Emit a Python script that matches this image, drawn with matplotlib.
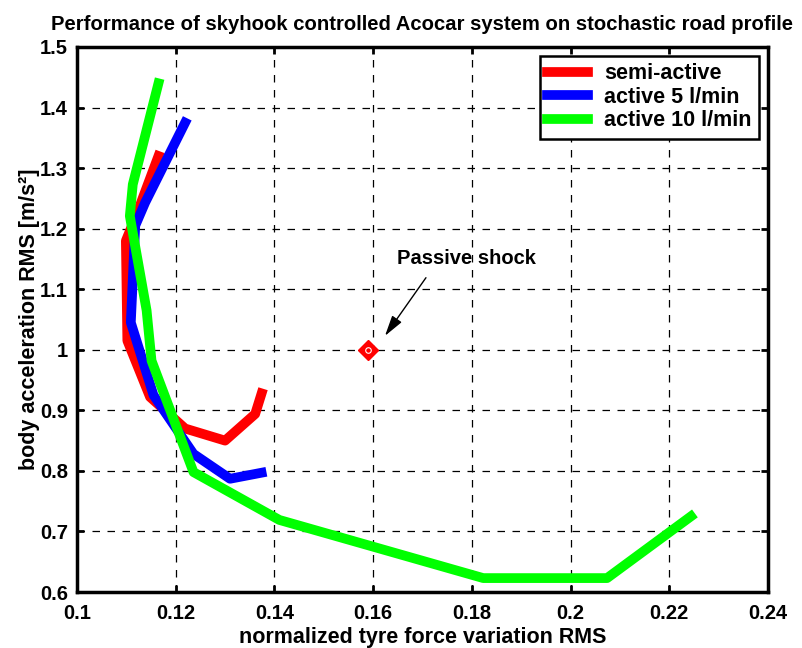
import matplotlib.pyplot as plt

plt.rcParams['font.family'] = ['Liberation Sans', 'DejaVu Sans']
plt.rcParams['font.weight'] = 'bold'

# semi-active
semi_x = [0.1165, 0.1121, 0.1099, 0.1102, 0.1148, 0.1219, 0.1300, 0.1361, 0.1374]
semi_y = [1.320, 1.224, 1.180, 1.015, 0.922, 0.870, 0.850, 0.894, 0.928]

# active 5 l/min
act5_x = [0.1219, 0.1138, 0.1118, 0.1109, 0.1155, 0.1236, 0.1310, 0.1374]
act5_y = [1.375, 1.243, 1.205, 1.045, 0.925, 0.828, 0.787, 0.797]

# active 10 l/min
act10_x = [0.1165, 0.1113, 0.1107, 0.1141, 0.1151, 0.1236, 0.1410, 0.1823, 0.2074, 0.2244]
act10_y = [1.440, 1.273, 1.221, 1.065, 0.982, 0.798, 0.719, 0.623, 0.623, 0.725]

passive_x = 0.159
passive_y = 1.0

xticks = [0.1, 0.12, 0.14, 0.16, 0.18, 0.2, 0.22, 0.24]
yticks = [0.6, 0.7, 0.8, 0.9, 1, 1.1, 1.2, 1.3, 1.4, 1.5]

fig = plt.figure(figsize=(8.03, 6.48), dpi=100)
ax = fig.add_axes([0.0959, 0.0864, 0.8605, 0.8411])

ax.plot(semi_x, semi_y, color=(1, 0, 0), linewidth=7, label='semi-active')
ax.plot(act5_x, act5_y, color=(0, 0, 1), linewidth=7, label='active 5 l/min')
ax.plot(act10_x, act10_y, color=(0, 1, 0), linewidth=7, label='active 10 l/min')

ax.plot([passive_x], [passive_y], marker='D', markersize=10, color='red',
        markerfacecolor='red', linestyle='none')
ax.plot([passive_x], [passive_y], marker='o', markersize=4, color='white',
        markerfacecolor='red', markeredgewidth=0.8, linestyle='none')

# label + arrow for the passive point
ax.text(0.179, 1.151, 'Passive shock', ha='center', va='center',
        fontsize=14.5, fontweight='bold')
ax.annotate('', xy=(0.1624, 1.023), xytext=(0.1707, 1.119),
            arrowprops=dict(arrowstyle='-|>,head_length=0.9,head_width=0.25',
                            color='black', lw=1, mutation_scale=14,
                            shrinkA=0, shrinkB=0))

ax.set_xlim(0.1, 0.24)
ax.set_ylim(0.6, 1.5)
ax.set_xticks(xticks)
ax.set_yticks(yticks)
ax.set_xticklabels([f'{t:g}' for t in xticks])
ax.set_yticklabels([f'{t:g}' for t in yticks])
ax.tick_params(direction='in', length=5, width=2, labelsize=14.5,
               top=True, right=True)
ax.tick_params(axis='x', pad=8.5)
ax.tick_params(axis='y', pad=6.5)
for s in ax.spines.values():
    s.set_linewidth(2.5)

ax.grid(True, color='black', linestyle=(0, (6, 6)), linewidth=0.9)

ax.set_title('Performance of skyhook controlled Acocar system on stochastic road profile',
             fontsize=14.6, fontweight='bold', pad=12)
ax.set_xlabel('normalized tyre force variation RMS', fontsize=15.5, fontweight='bold', labelpad=3)
ax.set_ylabel('body acceleration RMS [m/s²]', fontsize=15.5, fontweight='bold', labelpad=0)

leg = ax.legend(loc='upper right', fontsize=15.5, fancybox=False, framealpha=1,
                edgecolor='black', handlelength=1.9, handletextpad=0.75,
                borderaxespad=0.4, labelspacing=0.12, borderpad=0.35)
leg.get_frame().set_linewidth(1.8)
for t in leg.get_texts():
    t.set_fontweight('bold')

fig.savefig('out.png', dpi=100)
